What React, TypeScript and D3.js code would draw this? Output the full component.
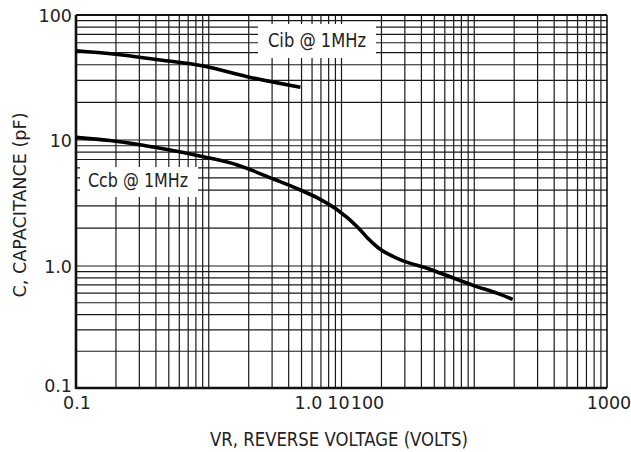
import React from "react";
import * as d3 from "d3";

// Reverse voltage (V) and capacitance (pF)
const cibVoltage = [0.1, 0.19, 0.43, 0.91, 1.95, 4.9];
const cibCap = [51.8, 48.8, 43.7, 39.1, 32.1, 26.4];

const ccbVoltage = [0.1, 0.18, 0.32, 0.51, 0.91, 1.64, 3.07, 4.9, 6.59, 9.33, 13.2, 15.7, 19.0, 27.9, 44.6, 66.5, 99, 150, 195];
const ccbCap = [10.5, 9.9, 9.1, 8.33, 7.36, 6.34, 4.9, 4.01, 3.47, 2.78, 2.04, 1.67, 1.39, 1.12, 0.954, 0.812, 0.691, 0.596, 0.532];

const xTickValues = [0.1, 1, 10, 100, 1000];
const xTickLabels = ["0.1", "1.0", "10", "100", "1000"];
const yTickValues = [0.1, 1, 10, 100];
const yTickLabels = ["0.1", "1.0", "10", "100"];

const seriesLabels = ["Cib @ 1MHz", "Ccb @ 1MHz"];
const xTitle = "VR, REVERSE VOLTAGE (VOLTS)";
const yTitle = "C, CAPACITANCE (pF)";

const W = 631;
const H = 452;
const L = 76, R = 607, T = 15, B = 388;

export default function App() {
  const x = d3.scaleLog().domain([0.1, 1000]).range([L, R]);
  const y = d3.scaleLog().domain([0.1, 1, 10, 100]).range([B, 266, 140, T]);

  const xGrid: number[] = [];
  for (let d = 0.1; d < 1000; d *= 10) for (let k = 1; k <= 9; k++) xGrid.push(+(d * k).toPrecision(6));
  const yGrid: number[] = [];
  for (let d = 0.1; d < 100; d *= 10) for (let k = 1; k <= 9; k++) yGrid.push(+(d * k).toPrecision(6));

  const line = d3
    .line<[number, number]>()
    .x((d) => x(d[0]))
    .y((d) => y(d[1]))
    .curve(d3.curveMonotoneX);

  const cib = cibVoltage.map((v, i) => [v, cibCap[i]] as [number, number]);
  const ccb = ccbVoltage.map((v, i) => [v, ccbCap[i]] as [number, number]);

  const font = "'DejaVu Sans', sans-serif";
  const tc = "#222";

  // x tick label placement as in the reference (middle three clustered at 10)
  const c10 = x(10);
  const xLabelPos = [x(xTickValues[0]) + 1, c10 - 33, c10 - 3, c10 + 26, x(xTickValues[4]) + 2];
  const yLabelShift = [3.5, 6.5, 6.5, 6.5];

  return (
    <svg width={W} height={H} style={{ position: "absolute", left: 0, top: 0, background: "#fff" }}>
      <rect x={0} y={0} width={W} height={H} fill="#fff" />
      <g stroke="#1a1a1a" strokeWidth={1.2}>
        {xGrid.map((v) => (
          <line key={"x" + v} x1={x(v)} x2={x(v)} y1={T} y2={B} />
        ))}
        {yGrid.map((v) => (
          <line key={"y" + v} x1={L} x2={R} y1={y(v)} y2={y(v)} />
        ))}
      </g>
      <line x1={L} x2={R} y1={T} y2={T} stroke="#111" strokeWidth={2} />
      <line x1={R} x2={R} y1={T} y2={B} stroke="#111" strokeWidth={1.6} />
      <line x1={L} x2={L} y1={T} y2={B + 1} stroke="#111" strokeWidth={2.6} />
      <line x1={L} x2={R} y1={B} y2={B} stroke="#111" strokeWidth={2.6} />

      {/* label boxes */}
      <rect x={258} y={24} width={118} height={34} fill="#fff" />
      <rect x={80} y={167} width={118} height={30} fill="#fff" />

      <path d={line(cib) || ""} fill="none" stroke="#000" strokeWidth={3.6} />
      <path d={line(ccb) || ""} fill="none" stroke="#000" strokeWidth={3.6} />

      <text x={268} y={46.5} fontFamily={font} fontSize={19} fill={tc} textLength={98} lengthAdjust="spacingAndGlyphs">
        {seriesLabels[0]}
      </text>
      <text x={88} y={187} fontFamily={font} fontSize={19} fill={tc} textLength={100} lengthAdjust="spacingAndGlyphs">
        {seriesLabels[1]}
      </text>

      {yTickValues.map((v, i) => (
        <text key={"yl" + v} x={72} y={y(v) + yLabelShift[i]} textAnchor="end" fontFamily={font} fontSize={17.5} fill={tc}>
          {yTickLabels[i]}
        </text>
      ))}
      {xTickValues.map((v, i) => (
        <text key={"xl" + v} x={xLabelPos[i]} y={408.5} textAnchor="middle" fontFamily={font} fontSize={17.5} fill={tc}>
          {xTickLabels[i]}
        </text>
      ))}

      <text x={339} y={446} textAnchor="middle" fontFamily={font} fontSize={20} fill={tc} textLength={258} lengthAdjust="spacingAndGlyphs">
        {xTitle}
      </text>
      <text
        transform={`translate(26,205) rotate(-90)`}
        textAnchor="middle"
        fontFamily={font}
        fontSize={18.5}
        fill={tc}
        textLength={185}
        lengthAdjust="spacingAndGlyphs"
      >
        {yTitle}
      </text>
    </svg>
  );
}
